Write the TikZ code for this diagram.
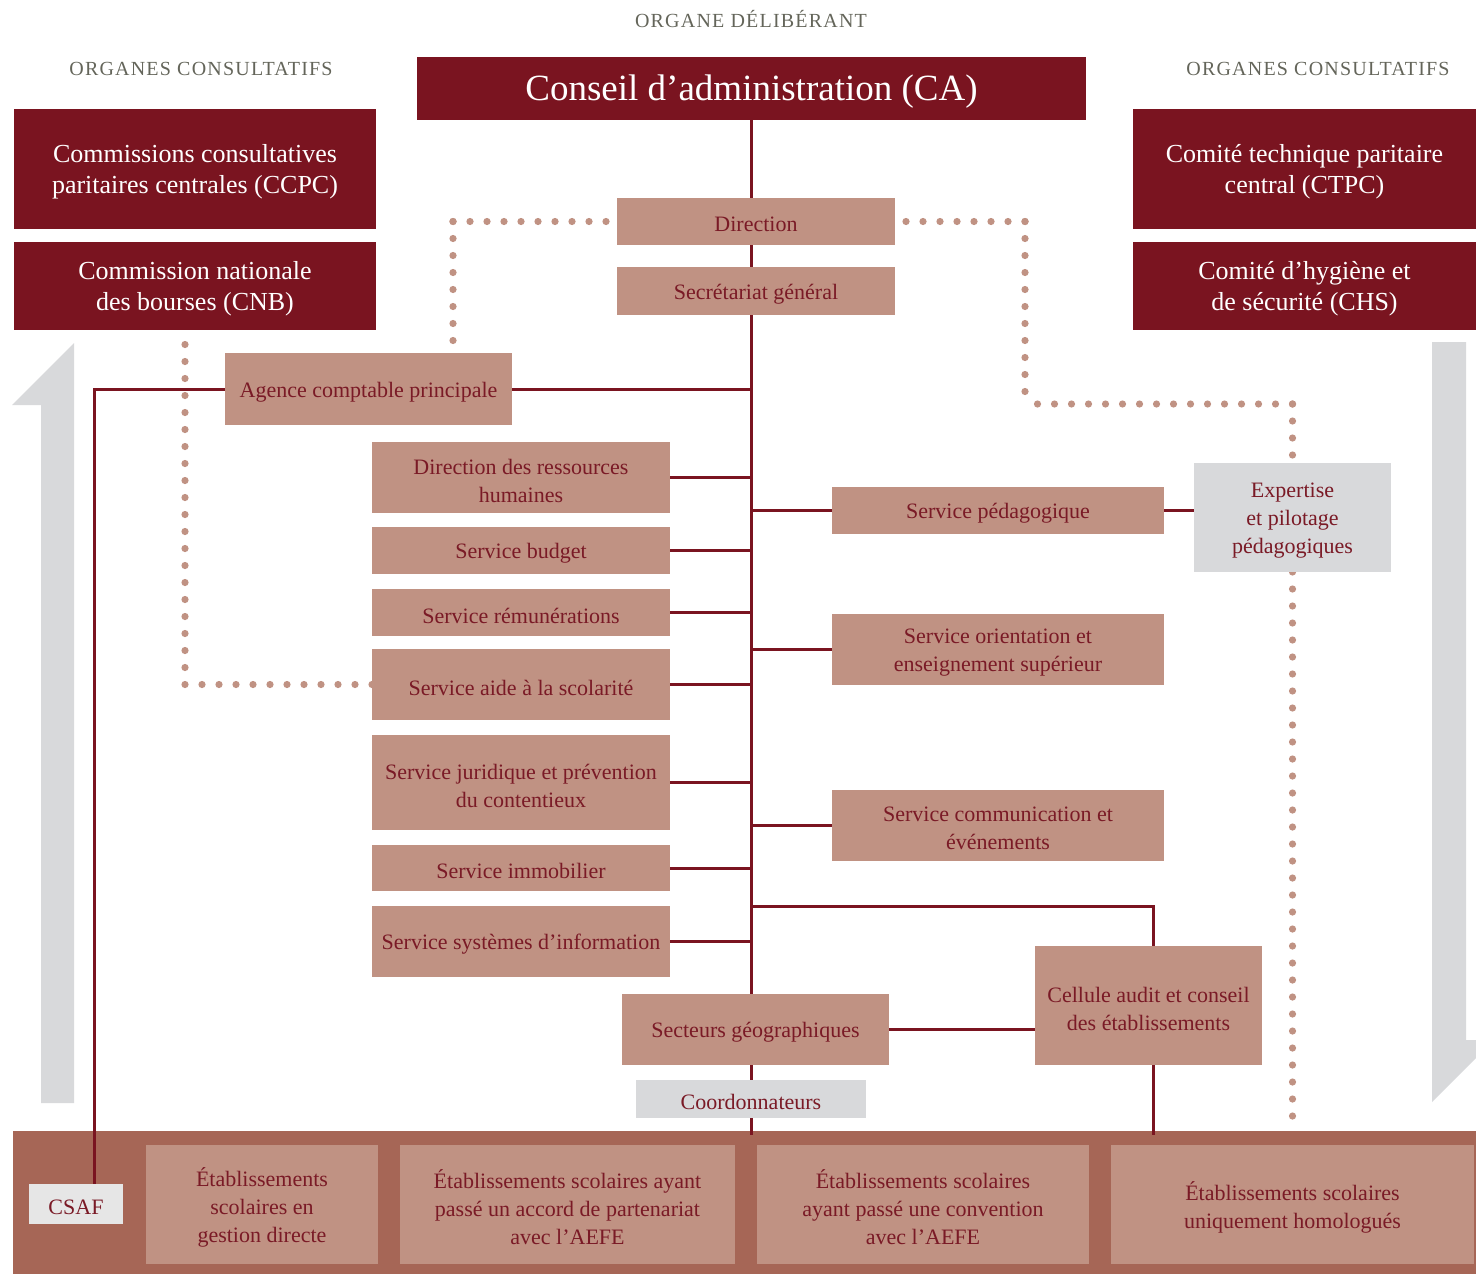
\documentclass[tikz,border=0pt]{standalone}
\usepackage{fontspec}
\setmainfont{Liberation Serif}
\usetikzlibrary{calc}
\definecolor{dred}{HTML}{7A1420}
\definecolor{tred}{HTML}{7A1A26}
\definecolor{lbrown}{HTML}{C09283}
\definecolor{bandc}{HTML}{A66656}
\definecolor{gry}{HTML}{D8D9DB}
\definecolor{lgry}{HTML}{E6E6E6}
\definecolor{hdrc}{HTML}{64655A}
\pgfdeclarelayer{bg}
\pgfsetlayers{bg,main}
\tikzset{
 box/.style={inner sep=0pt, outer sep=0pt, align=center, rectangle},
 darkbox/.style={box, fill=dred, text=white, font=\fontsize{13}{15.5}\selectfont},
 lightbox/.style={box, fill=lbrown, text=tred, font=\fontsize{11}{14}\selectfont},
 graybox/.style={box, fill=gry, text=tred, font=\fontsize{11}{14}\selectfont},
 conn/.style={draw=dred, line width=1.5pt},
 dots/.style={draw=lbrown, line width=3.6pt, line cap=round, dash pattern=on 0pt off 8.5pt},
 hdr/.style={text=hdrc, font=\fontsize{10}{12}\selectfont\addfontfeatures{LetterSpace=6}, inner sep=0pt},
}
\newcommand\bx[7]{\node[#2, minimum width={(#5-#3)*0.5pt}, minimum height={(#6-#4)*0.5pt}] (#1) at ({(#3+#5)/2},{(#4+#6)/2}) {};
\node[#2, fill=none, minimum width=0pt, minimum height=0pt] (#1-t) at ([yshift=-1.5pt]#1.center) {#7};}
\begin{document}
\begin{tikzpicture}[x=0.5pt,y=-0.5pt]
\useasboundingbox (0,0) rectangle (1476,1274);
% gray arrows
\fill[gry] (41,1103) -- (41,405) -- (12,405) -- (74,343) -- (74,1103) -- cycle;
\fill[gry] (1432,342) -- (1466,342) -- (1466,1040) -- (1476,1040) -- (1476,1058) -- (1432,1102) -- cycle;
% headers
\node[hdr] (hdel) at (751,19) {ORGANE DÉLIBÉRANT};
\node[hdr] (hcl) at (201,69) {ORGANES CONSULTATIFS};
\node[hdr] (hcr) at (1318,69) {ORGANES CONSULTATIFS};
% top boxes
\bx{ca}{darkbox,font=\fontsize{18.5}{20}\selectfont}{417}{57}{1086}{120}{Conseil d’administration (CA)}
\bx{ccpc}{darkbox}{14}{109}{376}{229}{Commissions consultatives\\paritaires centrales (CCPC)}
\bx{cnb}{darkbox}{14}{242}{376}{330}{Commission nationale\\des bourses (CNB)}
\bx{ctpc}{darkbox}{1133}{109}{1476}{229}{Comité technique paritaire\\central (CTPC)}
\bx{chs}{darkbox}{1133}{242}{1476}{330}{Comité d’hygiène et\\de sécurité (CHS)}
% central
\bx{dir}{lightbox}{617}{198}{895}{245}{Direction}
\bx{sg}{lightbox}{617}{267}{895}{315}{Secrétariat général}
\bx{acp}{lightbox}{225}{353}{512}{425}{Agence comptable principale}
% left column
\bx{drh}{lightbox}{372}{442}{670}{513}{Direction des ressources\\humaines}
\bx{sbud}{lightbox}{372}{527}{670}{574}{Service budget}
\bx{srem}{lightbox}{372}{589}{670}{636}{Service rémunérations}
\bx{said}{lightbox}{372}{649}{670}{720}{Service aide à la scolarité}
\bx{sjur}{lightbox}{372}{735}{670}{830}{Service juridique et prévention\\du contentieux}
\bx{simm}{lightbox}{372}{845}{670}{891}{Service immobilier}
\bx{ssi}{lightbox}{372}{906}{670}{977}{Service systèmes d’information}
% right column
\bx{sped}{lightbox}{832}{487}{1164}{534}{Service pédagogique}
\bx{sori}{lightbox}{832}{614}{1164}{685}{Service orientation et\\enseignement supérieur}
\bx{scom}{lightbox}{832}{790}{1164}{861}{Service communication et\\événements}
\bx{exp}{graybox}{1194}{463}{1391}{572}{Expertise\\et pilotage\\pédagogiques}
\bx{cell}{lightbox}{1035}{946}{1262}{1065}{Cellule audit et conseil\\des établissements}
\bx{sect}{lightbox}{622}{994}{889}{1065}{Secteurs géographiques}
\bx{coord}{graybox}{636}{1080}{866}{1118}{Coordonnateurs}
% helper coordinates
\coordinate (csafk) at (94,1184);
\coordinate (cellk) at (1153,906);
\coordinate (cellb) at (1153,1065);
\coordinate (dl1) at (453,345);
\coordinate (dr1) at (1025,404);
\coordinate (dl2) at (185,335);
\coordinate (dend) at (1294,1120);
% bottom band
\bx{band}{box,fill=bandc}{13}{1131}{1476}{1274}{}
\draw[conn] (acp.west) -| (csafk);
\draw[conn] (coord.south -| ca.south) -- ([yshift=-2pt]band.north -| ca.south);
\draw[conn] (cellb) -- ([yshift=-2pt]band.north -| cellb);
\bx{csaf}{box,fill=lgry,text=tred,font=\fontsize{11}{14}\selectfont}{29}{1184}{123}{1224}{CSAF}
\bx{e1}{lightbox}{146}{1145}{378}{1264}{Établissements\\scolaires en\\gestion directe}
\bx{e2}{lightbox}{400}{1145}{735}{1264}{Établissements scolaires ayant\\passé un accord de partenariat\\avec l’AEFE}
\bx{e3}{lightbox}{757}{1145}{1089}{1264}{Établissements scolaires\\ayant passé une convention\\avec l’AEFE}
\bx{e4}{lightbox}{1111}{1145}{1474}{1264}{Établissements scolaires\\uniquement homologués}
\begin{pgfonlayer}{bg}
\draw[conn] (ca.south) -- (ca.south |- band.north);
\foreach \n in {acp,drh,sbud,srem,said,sjur,simm,ssi,sped,sori,scom}
  \draw[conn] (\n.center) -- (\n.center -| ca.south);
\draw[conn] (sped.east) -- (sped.east -| exp.west);
\draw[conn] (cellk -| ca.south) -- (cellk) -- (cellk |- cell.north);
\draw[conn] (sect.east) -- (sect.east -| cell.west);
\draw[dots] (dl1 |- dir.west) -- (dl1);
\draw[dots] (dl1 |- dir.west) -- (dir.west);
\draw[dots] (dr1 |- dir.east) -- (dir.east);
\draw[dots] (dr1 |- dir.east) -- (dr1);
\draw[dots] (dr1 -| exp.north) -- (dr1);
\draw[dots] (dr1 -| exp.north) -- (exp.north);
\draw[dots] (exp.south) -- (exp.south |- dend);
\draw[dots] (said.west) -| (dl2);
\end{pgfonlayer}
\end{tikzpicture}
\end{document}
